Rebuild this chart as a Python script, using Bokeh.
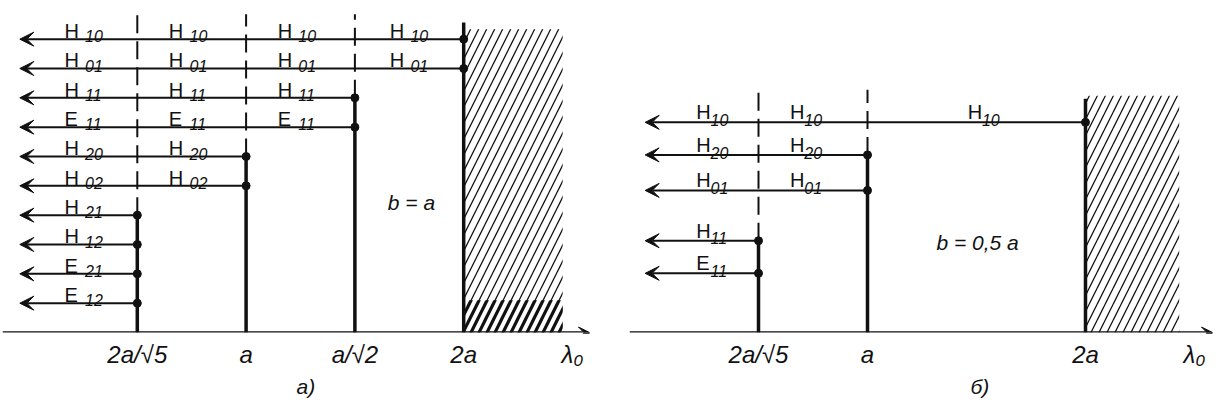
from bokeh.plotting import figure
from bokeh.layouts import row
from bokeh.models import Range1d, FixedTicker, Arrow, VeeHead, ColumnDataSource, Title
from bokeh.core.properties import value
from bokeh.embed import file_html
from bokeh.resources import INLINE

INK = "#111111"
FONT = "Liberation Sans"

# ---------------- data: panel а)  (b = a) ----------------
letters_a = ["H", "H", "H", "E", "H", "H", "H", "H", "E", "E"]
subs_a = ["10", "01", "11", "11", "20", "02", "21", "12", "21", "12"]
rows_a = [10, 9, 8, 7, 6, 5, 4, 3, 2, 1]          # schematic row heights
cut_a = [4, 4, 3, 3, 2, 2, 1, 1, 1, 1]            # cutoff level on the λ axis
levels_a = [1, 2, 3, 4]
level_text_a = ["2a/√5", "a", "a/√2", "2a"]

# ---------------- data: panel б)  (b = 0,5 a) ----------------
letters_b = ["H", "H", "H", "H", "E"]
subs_b = ["10", "20", "01", "11", "11"]
rows_b = [7.1, 6.0, 4.8, 3.1, 2.0]
cut_b = [4, 2, 2, 1, 1]
levels_b = [1, 2, 4]
level_text_b = ["2a/√5", "a", "2a"]

lam_pos = 5
lam_text = "λ₀"


def make_panel(width, bl, br, bb, xr, ytop, letters, subs, rows, cuts, levels,
               level_text, letter_off, sub_gap, letter_dy, sub_dy, tip,
               dash_top, wall_top, hatch_right, hatch_top, axis_end,
               note, note_xy, caption, cap_offset, bold_top=None):
    p = figure(width=width, height=400, x_range=Range1d(*xr), y_range=Range1d(0, ytop),
               output_backend="svg", toolbar_location=None, y_axis_location=None,
               min_border_left=bl, min_border_right=br, min_border_top=0,
               min_border_bottom=bb)
    p.grid.visible = False
    p.outline_line_color = None
    p.background_fill_color = "white"
    p.border_fill_color = "white"

    ax = p.xaxis[0]
    ax.ticker = FixedTicker(ticks=levels + [lam_pos])
    ov = {lv: t for lv, t in zip(levels, level_text)}
    ov[lam_pos] = lam_text
    ax.major_label_overrides = ov
    ax.axis_line_color = None
    ax.major_tick_line_color = None
    ax.minor_tick_line_color = None
    ax.major_tick_out = 0
    ax.major_tick_in = 0
    ax.major_label_standoff = 8
    ax.major_label_text_font = FONT
    ax.major_label_text_font_style = "italic"
    ax.major_label_text_font_size = "24px"
    ax.major_label_text_color = INK

    # panel caption below the axis
    p.add_layout(Title(text=caption, align="left", offset=cap_offset, standoff=4,
                       text_font=FONT, text_font_size="21px", text_font_style="italic",
                       text_color=INK), "below")

    # hatched forbidden region beyond the largest cutoff
    wall = max(levels)
    p.quad(left=[wall], right=[hatch_right], bottom=[0], top=[hatch_top],
           fill_color=None, line_color=None, hatch_pattern="/", hatch_color=INK,
           hatch_weight=1.3, hatch_scale=16)
    if bold_top is not None:
        p.quad(left=[wall], right=[hatch_right], bottom=[0], top=[bold_top],
               fill_color=None, line_color=None, hatch_pattern="/", hatch_color=INK,
               hatch_weight=3.2, hatch_scale=16)

    # vertical lines at cutoff levels
    solid_top = []
    for lv in levels:
        tops = [r for r, c in zip(rows, cuts) if c == lv]
        solid_top.append(max(tops))
    solid_top[-1] = wall_top
    p.segment(x0=levels, x1=levels, y0=[0] * len(levels), y1=solid_top,
              line_width=3.5, line_color=INK)
    dl = levels[:-1]
    p.segment(x0=dl, x1=dl, y0=solid_top[:-1], y1=[dash_top] * len(dl),
              line_width=2, line_color=INK, line_dash="18 8")

    # mode lines with arrows toward shorter wavelengths
    src = ColumnDataSource(dict(x0=cuts, x1=[tip] * len(cuts), y=rows))
    p.add_layout(Arrow(source=src, x_start="x0", y_start="y", x_end="x1", y_end="y",
                       line_width=2, line_color=INK,
                       end=VeeHead(size=14, fill_color=INK, line_color=INK, line_width=1)))
    p.scatter(x=cuts, y=rows, size=8, color=INK)

    # λ axis
    p.add_layout(Arrow(x_start=xr[0], y_start=0, x_end=axis_end, y_end=0,
                       line_width=2.5, line_color=INK,
                       end=VeeHead(size=11, fill_color=INK, line_color=INK, line_width=1)))

    # mode labels in each column left of the cutoff
    bounds = [0] + levels
    lx, ly, lt, sx, sy, st = [], [], [], [], [], []
    for L, S, r, c in zip(letters, subs, rows, cuts):
        for j in range(len(bounds) - 1):
            if bounds[j + 1] > c:
                break
            x = bounds[j] + letter_off[j]
            lx.append(x); ly.append(r + letter_dy); lt.append(L)
            sx.append(x + sub_gap); sy.append(r + sub_dy); st.append(S)
    p.text(x=lx, y=ly, text=lt, text_font=value(FONT), text_font_size="20px",
           text_color=INK, text_align="left", text_baseline="alphabetic")
    p.text(x=sx, y=sy, text=st, text_font=value(FONT), text_font_size="16px",
           text_font_style="italic", text_color=INK, text_align="left",
           text_baseline="alphabetic")

    p.text(x=[note_xy[0]], y=[note_xy[1]], text=[note], text_font=value(FONT),
           text_font_size="21px", text_font_style="italic", text_color=INK,
           text_align="center", text_baseline="middle")
    return p


pa = make_panel(620, 2, 12, 65, (-0.239, 5.331), 335 / 29.6,
                letters_a, subs_a, rows_a, cut_a, levels_a, level_text_a,
                [0.33, 0.29, 0.29, 0.32], 0.19, 0.28, 0.1, -0.08,
                10.85, 10.57, 4.91, 10.34, 5.156,
                "b = a", (3.52, 4.43), "а)", 294, bold_top=1.1)

pb = make_panel(594, 9, 0, 68, (-0.1835, 5.1835), 332 / 29.6,
                letters_b, subs_b, rows_b, cut_b, levels_b, level_text_b,
                [0.43, 0.29, 0.92], 0.13, 0.34, 0.08, -0.04,
                8.2, 7.9, 4.86, 8.0, 5.165,
                "b = 0,5 a", (3.01, 3.04), "б)", 341)

layout = row(pa, pb)
open("out.html", "w").write(file_html(layout, INLINE))
